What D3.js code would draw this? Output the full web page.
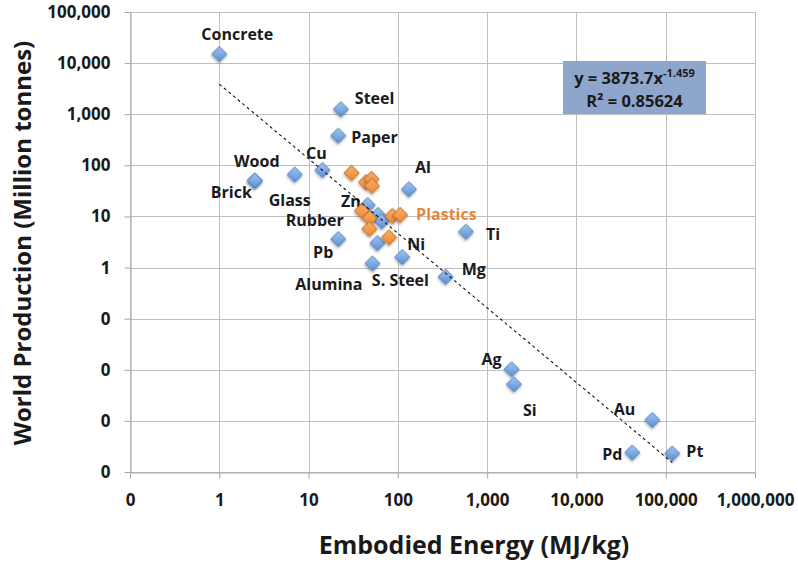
<!DOCTYPE html>
<html>
<head>
<meta charset="utf-8">
<script src="https://cdn.jsdelivr.net/npm/d3@7/dist/d3.min.js"></script>
<style>
  html, body { margin: 0; padding: 0; background: #fff; }
  svg { display: block; }
  text { font-family: "Open Sans", "Noto Sans", sans-serif; font-weight: 700; fill: #1a1a1a; }
</style>
</head>
<body>
<svg id="chart" width="798" height="565"></svg>
<script>
// ---- data -------------------------------------------------------------
// Materials (blue series): embodied energy (MJ/kg) and world production (Mt)
const materialNames = ["Concrete", "Steel", "Paper", "Wood", "Brick", "Glass", "Cu", "Al", "Zn", "",
  "Rubber", "S. Steel", "Alumina", "Ni", "Pb", "Ti", "Mg", "Ag", "Si", "Au", "Pd", "Pt"];
const materialEnergy = [1, 23, 21.5, 2.5, 2.5, 7, 14.3, 133, 46, 60,
  66, 59, 52, 112, 21.5, 580, 343, 1880, 2000, 70800, 42300, 118600];
const materialProduction = [15000, 1250, 380, 50, 50, 66, 81, 34, 16.7, 10.7,
  8, 3.0, 1.2, 1.6, 3.6, 5, 0.66, 0.0102, 0.0052, 0.00104, 0.00024, 0.00023];

// Plastics (orange series)
const plasticsLabel = "Plastics";
const plasticsEnergy = [30.3, 44, 50.7, 51.3, 39.6, 48.1, 48, 79.6, 87, 106];
const plasticsProduction = [71, 47, 54, 39.5, 12.8, 9.2, 5.7, 3.9, 10.2, 10.7];

// Power-law trend fitted to all points
const trendCoefficient = 3873.7;
const trendExponent = -1.459;
const trendRSquared = 0.85624;
const trendEnergyRange = [1, 118600];

// Axis ticks
const xTicks = [0.1, 1, 10, 100, 1000, 10000, 100000, 1000000];
const yTicks = [0.0001, 0.001, 0.01, 0.1, 1, 10, 100, 1000, 10000, 100000];

const xTitle = "Embodied Energy (MJ/kg)";
const yTitle = "World Production (Million tonnes)";

// ---- layout -----------------------------------------------------------
const plot = { left: 130, right: 755, top: 12, bottom: 472 };
const svg = d3.select("#chart");

const x = d3.scaleLog().domain([xTicks[0], xTicks[xTicks.length - 1]]).range([plot.left, plot.right]);
const y = d3.scaleLog().domain([yTicks[0], yTicks[yTicks.length - 1]]).range([plot.bottom, plot.top]);
const fmt = d3.format(",.0f");

const defs = svg.append("defs");
const blueGrad = defs.append("linearGradient").attr("id", "blueFill")
  .attr("x1", "0").attr("y1", "0").attr("x2", "1").attr("y2", "1");
blueGrad.append("stop").attr("offset", "0%").attr("stop-color", "#a3c6ef");
blueGrad.append("stop").attr("offset", "100%").attr("stop-color", "#5b8fd6");
const orangeGrad = defs.append("linearGradient").attr("id", "orangeFill")
  .attr("x1", "0").attr("y1", "0").attr("x2", "1").attr("y2", "1");
orangeGrad.append("stop").attr("offset", "0%").attr("stop-color", "#f9b068");
orangeGrad.append("stop").attr("offset", "100%").attr("stop-color", "#ec8a36");
const shadow = defs.append("filter").attr("id", "shadow")
  .attr("x", "-50%").attr("y", "-50%").attr("width", "200%").attr("height", "200%");
shadow.append("feDropShadow").attr("dx", 1).attr("dy", 1.5).attr("stdDeviation", 1)
  .attr("flood-color", "#000").attr("flood-opacity", 0.3);

// gridlines
const grid = svg.append("g").attr("stroke", "#bfbfbf").attr("stroke-width", 1);
grid.selectAll(".gx").data(xTicks).join("line")
  .attr("x1", d => Math.round(x(d)) + 0.5).attr("x2", d => Math.round(x(d)) + 0.5)
  .attr("y1", plot.top).attr("y2", plot.bottom);
grid.selectAll(".gy").data(yTicks).join("line")
  .attr("y1", d => Math.round(y(d)) + 0.5).attr("y2", d => Math.round(y(d)) + 0.5)
  .attr("x1", plot.left).attr("x2", plot.right);

// axes
const xAxis = d3.axisBottom(x).tickValues(xTicks).tickFormat(fmt).tickSize(6).tickSizeOuter(0).tickPadding(15);
const yAxis = d3.axisLeft(y).tickValues(yTicks).tickFormat(fmt).tickSize(6).tickSizeOuter(0).tickPadding(14);
const gx = svg.append("g").attr("transform", `translate(0,${Math.round(plot.bottom) + 0.5})`).call(xAxis);
const gy = svg.append("g").attr("transform", `translate(${plot.left + 0.5},0)`).call(yAxis);
[gx, gy].forEach(g => {
  g.select(".domain").attr("stroke", "#a6a6a6");
  g.selectAll(".tick line").attr("stroke", "#a6a6a6");
  g.selectAll(".tick text").attr("font-size", 17).attr("font-family", "'Open Sans', sans-serif")
    .attr("font-weight", 700).attr("fill", "#1a1a1a");
});

// axis titles
svg.append("text").attr("x", 474).attr("y", 554).attr("text-anchor", "middle")
  .attr("font-size", 25).text(xTitle);
svg.append("text").attr("transform", "translate(31,243) rotate(-90)").attr("text-anchor", "middle")
  .attr("font-size", 24).text(yTitle);

// data label placement: [anchor, dx, dy] relative to the marker centre
const labelPlacement = {
  "Concrete": ["middle", 18, -14], "Steel": ["start", 14, -5], "Paper": ["start", 13, 7],
  "Wood": ["middle", 2, -14], "Brick": ["end", -3, 17], "Glass": ["middle", -5, 31],
  "Cu": ["middle", -6, -11], "Al": ["middle", 14, -16], "Zn": ["end", -7, 2],
  "Rubber": ["end", -38, 5], "S. Steel": ["middle", 23, 43], "Alumina": ["end", -10, 26],
  "Ni": ["start", 5, -7], "Pb": ["end", -5, 19], "Ti": ["start", 20, 8], "Mg": ["start", 16, -2],
  "Ag": ["end", -10, -4], "Si": ["start", 9, 32], "Au": ["end", -17, -5], "Pd": ["end", -10, 7],
  "Pt": ["start", 14, 3]
};

const materials = materialNames.map((name, i) => ({ name, e: materialEnergy[i], p: materialProduction[i] }));
const plastics = plasticsEnergy.map((e, i) => ({ e, p: plasticsProduction[i] }));

// labels
const labels = svg.append("g").attr("font-size", 16);
labels.selectAll("text").data(materials.filter(d => d.name && labelPlacement[d.name])).join("text")
  .attr("x", d => x(d.e) + labelPlacement[d.name][1])
  .attr("y", d => y(d.p) + labelPlacement[d.name][2])
  .attr("text-anchor", d => labelPlacement[d.name][0])
  .text(d => d.name);
const lastPlastic = plastics[plastics.length - 1];
labels.append("text").attr("x", x(lastPlastic.e) + 16).attr("y", y(lastPlastic.p) + 5)
  .style("fill", "#e8873a").text(plasticsLabel);

// diamond markers
const diamond = d3.symbol().type(d3.symbolSquare).size(112);
svg.append("g").selectAll("path").data(materials).join("path")
  .attr("d", diamond)
  .attr("transform", d => `translate(${x(d.e)},${y(d.p)}) rotate(45)`)
  .attr("fill", "url(#blueFill)").attr("stroke", "#4f81bd").attr("stroke-width", 0.8)
  .attr("filter", "url(#shadow)");
svg.append("g").selectAll("path").data(plastics).join("path")
  .attr("d", diamond)
  .attr("transform", d => `translate(${x(d.e)},${y(d.p)}) rotate(45)`)
  .attr("fill", "url(#orangeFill)").attr("stroke", "#c46f24").attr("stroke-width", 0.9)
  .attr("filter", "url(#shadow)");

// trend line
const trend = trendEnergyRange.map(e => ({ e, p: trendCoefficient * Math.pow(e, trendExponent) }));
svg.append("path").datum(trend)
  .attr("d", d3.line().x(d => x(d.e)).y(d => y(d.p)))
  .attr("fill", "none").attr("stroke", "#111").attr("stroke-width", 1.1).attr("stroke-dasharray", "3,3");

// equation box
const eq = svg.append("g");
eq.append("rect").attr("x", 563).attr("y", 61).attr("width", 143).attr("height", 53).attr("fill", "#8ea5cc");
const l1 = eq.append("text").attr("x", 634.5).attr("y", 84).attr("text-anchor", "middle").attr("font-size", 16.5);
l1.append("tspan").text(`y = ${trendCoefficient}x`);
l1.append("tspan").attr("font-size", 11).attr("dy", -7).text(trendExponent);
eq.append("text").attr("x", 634.5).attr("y", 107).attr("text-anchor", "middle").attr("font-size", 16.5)
  .text(`R² = ${trendRSquared}`);
</script>
</body>
</html>
